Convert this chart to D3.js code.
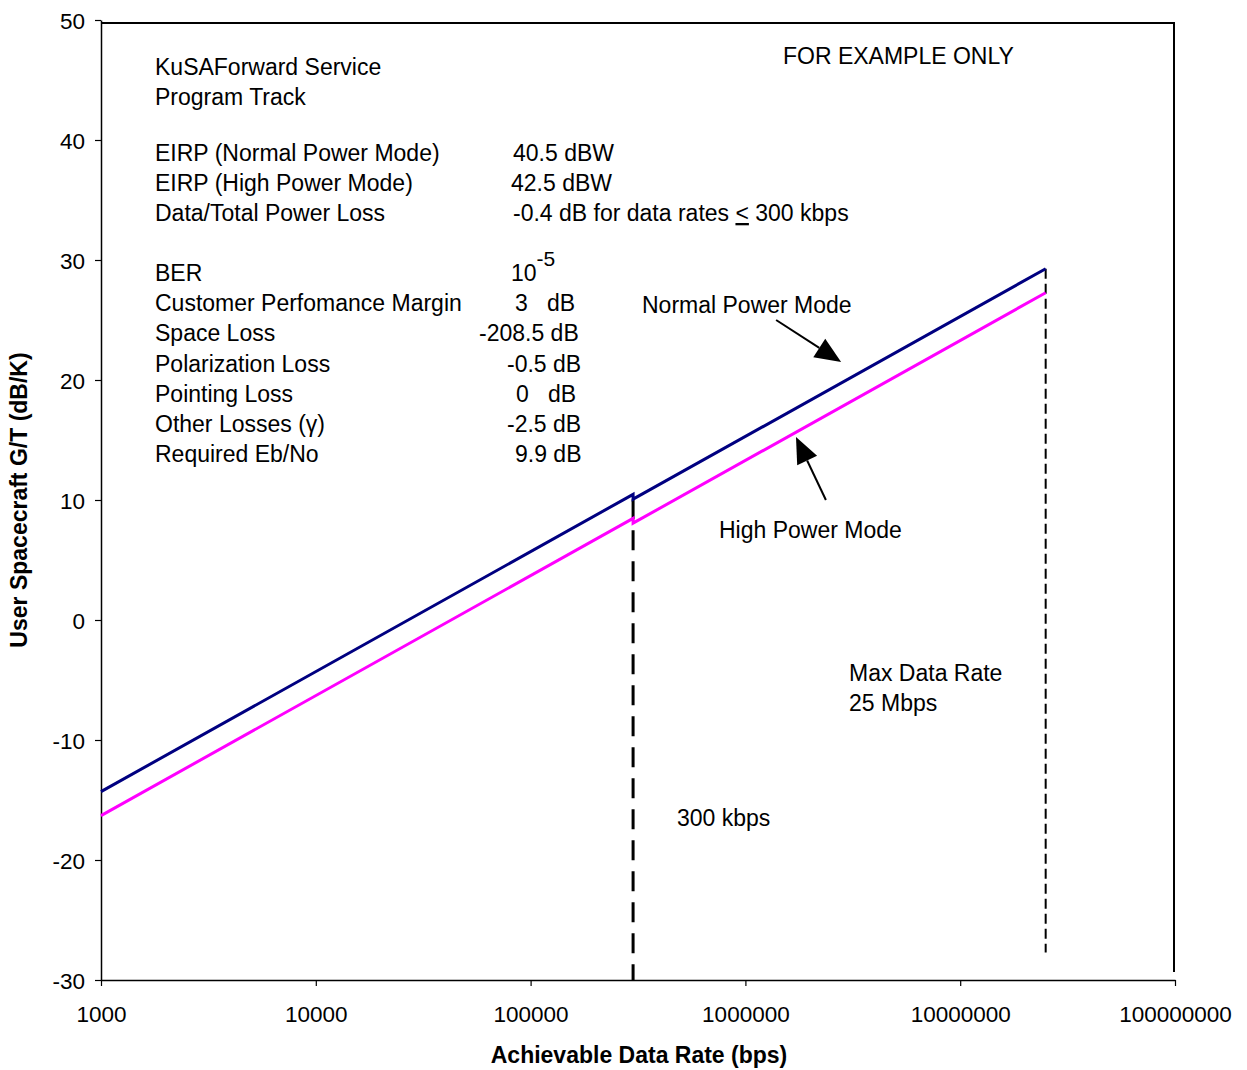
<!DOCTYPE html>
<html>
<head>
<meta charset="utf-8">
<script src="https://cdn.jsdelivr.net/npm/d3@7"></script>
<style>
  html, body { margin: 0; padding: 0; background: #fff; }
  svg { display: block; font-family: Arial, "Liberation Sans", sans-serif; }
  svg text { white-space: pre; }
</style>
</head>
<body>
<svg id="chart" width="1247" height="1070"></svg>
<script>
// Data rates (bps) at which the G/T curves are evaluated; 300 kbps appears twice for the power-loss step
const dataRates = [1000, 300000, 300000, 25000000];
// Required user spacecraft G/T (dB/K)
const normalPowerGT = [-14.3, 10.47, 10.07, 29.27];
const highPowerGT = [-16.3, 8.47, 8.07, 27.27];

const xTicks = [1e3, 1e4, 1e5, 1e6, 1e7, 1e8];
const xTickLabels = ["1000", "10000", "100000", "1000000", "10000000", "100000000"];
const yTicks = [-30, -20, -10, 0, 10, 20, 30, 40, 50];

const kneeRate = 300000;     // 300 kbps
const maxRate = 25000000;    // 25 Mbps

// Link parameters listed on the chart
const paramNames = ["EIRP (Normal Power Mode)", "EIRP (High Power Mode)", "Data/Total Power Loss"];
const paramValues = ["40.5 dBW", "42.5 dBW", "-0.4 dB for data rates "];
const lossNames = ["BER", "Customer Perfomance Margin", "Space Loss", "Polarization Loss",
                   "Pointing Loss", "Other Losses (\u03b3)", "Required Eb/No"];
const lossValues = ["10", "3   dB", "-208.5 dB", "-0.5 dB", "0   dB", "-2.5 dB", "9.9 dB"];

const svg = d3.select("#chart");
const plotLeft = 101, plotRight = 1175, plotTop = 20, plotBottom = 980;

const x = d3.scaleLog().domain([1e3, 1e8]).range([plotLeft, plotRight]);
const y = d3.scaleLinear().domain([-30, 50]).range([plotBottom, plotTop]);

// Frame: top and right borders
svg.append("line").attr("x1", plotLeft).attr("x2", plotRight).attr("y1", plotTop + 3).attr("y2", plotTop + 3)
  .attr("stroke", "#000").attr("stroke-width", 2);
svg.append("line").attr("x1", plotRight - 1).attr("x2", plotRight - 1).attr("y1", plotTop + 3).attr("y2", plotBottom - 8)
  .attr("stroke", "#000").attr("stroke-width", 2);

// Axes
const fontTick = "22.5px";
const xAxis = svg.append("g").attr("transform", `translate(0,${plotBottom})`)
  .call(d3.axisBottom(x).tickValues(xTicks).tickFormat((d, i) => xTickLabels[i]).tickSize(6).tickSizeOuter(0));
const yAxis = svg.append("g").attr("transform", `translate(${plotLeft},0)`)
  .call(d3.axisLeft(y).tickValues(yTicks).tickFormat(d => String(d)).tickSize(6).tickSizeOuter(0));
[xAxis, yAxis].forEach(a => {
  a.select(".domain").attr("stroke", "#000").attr("stroke-width", 1.5);
  a.selectAll(".tick line").attr("stroke", "#000").attr("stroke-width", 1.2);
  a.selectAll(".tick text").attr("font-size", fontTick).attr("font-family", "Arial, 'Liberation Sans', sans-serif").attr("fill", "#000");
});
xAxis.selectAll(".tick text").attr("dy", "0").attr("y", 42);
yAxis.selectAll(".tick text").attr("x", -16).attr("dy", "0.36em");

// Axis titles
svg.append("text").attr("x", (plotLeft + plotRight) / 2 + 1).attr("y", 1063).attr("text-anchor", "middle")
  .attr("font-size", "23px").attr("font-weight", "bold").text("Achievable Data Rate (bps)");
svg.append("text").attr("transform", `translate(27,${(plotTop + plotBottom) / 2}) rotate(-90)`)
  .attr("text-anchor", "middle").attr("font-size", "23px").attr("font-weight", "bold")
  .text("User Spacecraft G/T (dB/K)");

// Data-rate limit markers
svg.append("line").attr("x1", x(kneeRate)).attr("x2", x(kneeRate))
  .attr("y1", y(normalPowerGT[2])).attr("y2", y(-30))
  .attr("stroke", "#000").attr("stroke-width", 3).attr("stroke-dasharray", "20,11");
svg.append("line").attr("x1", x(maxRate)).attr("x2", x(maxRate))
  .attr("y1", y(normalPowerGT[3])).attr("y2", y(-27.7))
  .attr("stroke", "#000").attr("stroke-width", 2).attr("stroke-dasharray", "10,5");

// G/T curves
const line = d3.line().x((d, i) => x(dataRates[i])).y(d => y(d));
svg.append("path").attr("d", line(highPowerGT)).attr("fill", "none")
  .attr("stroke", "#ff00ff").attr("stroke-width", 3);
svg.append("path").attr("d", line(normalPowerGT)).attr("fill", "none")
  .attr("stroke", "#000080").attr("stroke-width", 3);

// Annotation arrows (data coordinates: [rate, G/T])
function arrow(from, to) {
  const x0 = x(from[0]), y0 = y(from[1]), x1 = x(to[0]), y1 = y(to[1]);
  const ang = Math.atan2(y1 - y0, x1 - x0);
  const len = 26, half = 11;
  const bx = x1 - len * Math.cos(ang), by = y1 - len * Math.sin(ang);
  svg.append("line").attr("x1", x0).attr("y1", y0).attr("x2", bx).attr("y2", by)
    .attr("stroke", "#000").attr("stroke-width", 2);
  const px = -Math.sin(ang) * half, py = Math.cos(ang) * half;
  svg.append("polygon").attr("points", `${x1},${y1} ${bx + px},${by + py} ${bx - px},${by - py}`)
    .attr("fill", "#000");
}
arrow([1.39e6, 25], [2.79e6, 21.5]);
arrow([2.37e6, 10], [1.72e6, 15.25]);

// Text blocks
const fs = "23px";
function label(tx, ty, s, anchor) {
  return svg.append("text").attr("x", tx).attr("y", ty).attr("font-size", fs)
    .attr("text-anchor", anchor || "start").attr("fill", "#000").text(s);
}
label(155, 75, "KuSAForward Service");
label(155, 105, "Program Track");
label(783, 64, "FOR EXAMPLE ONLY");

const valueX1 = [513, 511, 513];
paramNames.forEach((n, i) => {
  label(155, 161 + i * 30, n);
  const t = label(valueX1[i], 161 + i * 30, paramValues[i]);
  if (i === 2) {
    t.append("tspan").attr("text-decoration", "underline").text("<");
    t.append("tspan").text(" 300 kbps");
  }
});

const valueX2 = [511, 515, 479, 507, 516, 507, 515];
lossNames.forEach((n, i) => {
  const yy = 281 + i * 30.2;
  label(155, yy, n);
  const t = label(valueX2[i], yy, lossValues[i]);
  if (i === 0) {
    t.append("tspan").attr("dy", -15).attr("font-size", "21px").text("-5");
  }
});

label(642, 313, "Normal Power Mode");
label(719, 538, "High Power Mode");
label(849, 681, "Max Data Rate");
label(849, 711, "25 Mbps");
label(677, 826, "300 kbps");
</script>
</body>
</html>
